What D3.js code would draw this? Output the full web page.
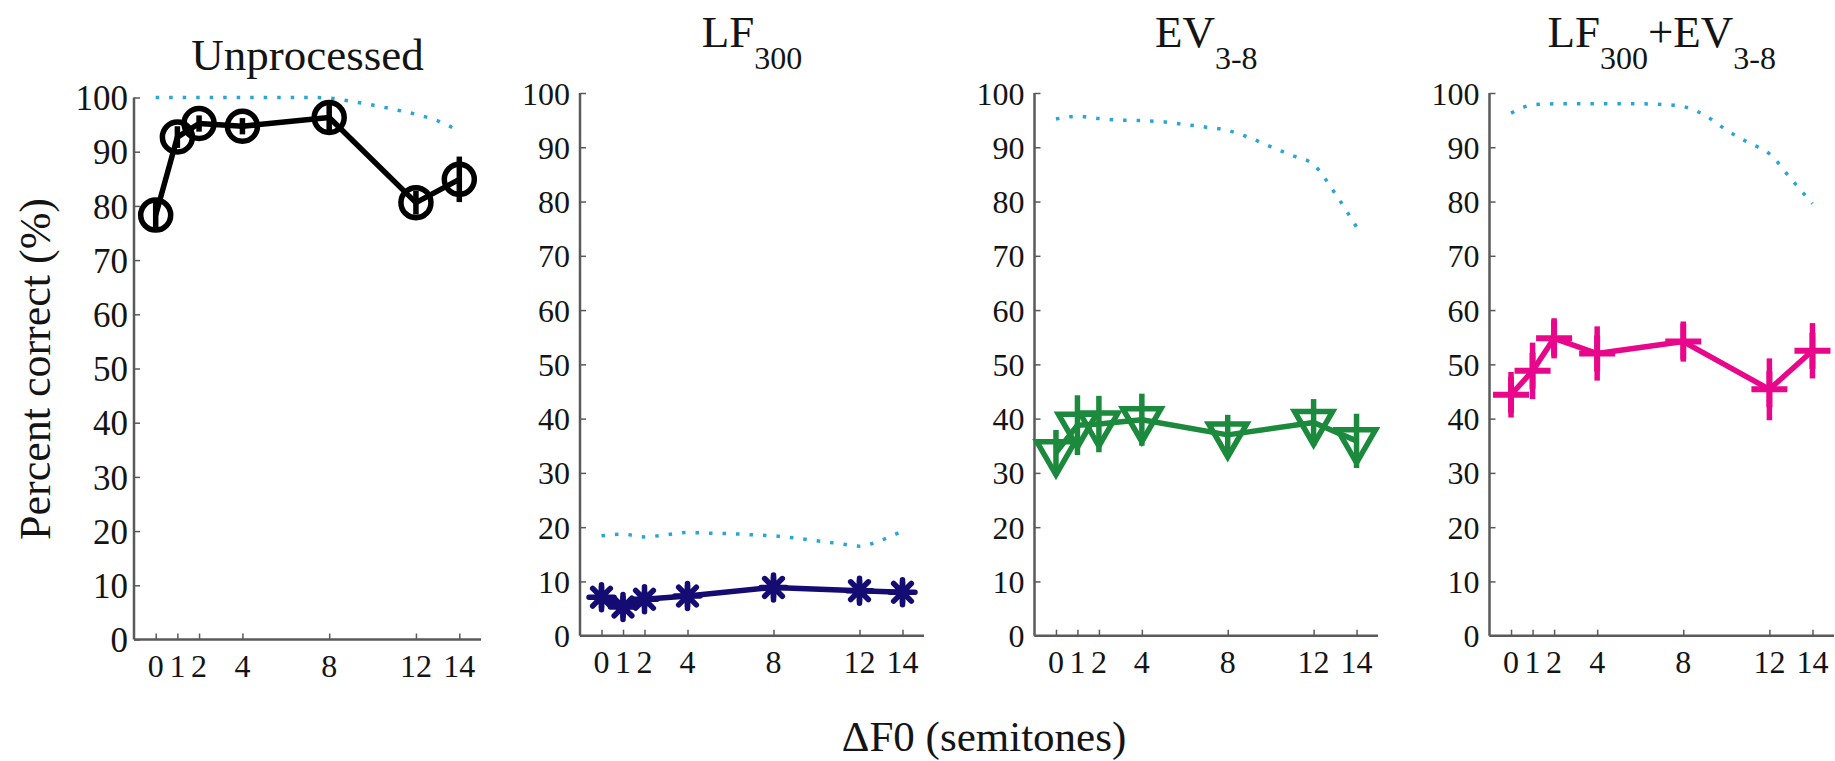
<!DOCTYPE html>
<html>
<head>
<meta charset="utf-8">
<script src="https://cdn.jsdelivr.net/npm/d3@7"></script>
<style>
  html, body { margin: 0; padding: 0; background: #ffffff; }
  svg { display: block; }
</style>
</head>
<body>
<svg id="chart" width="1835" height="761"></svg>
<script>
// ---------- DATA ----------
const semitones = [0, 1, 2, 4, 8, 12, 14];
const xTickValues = [0, 1, 2, 4, 8, 12, 14];
const yTickValues = [0, 10, 20, 30, 40, 50, 60, 70, 80, 90, 100];
const modelSemitones = [0, 1, 2, 3, 4, 5, 6, 7, 8, 9, 10, 11, 12, 13, 14];

const unprocessedMean = [78.3, 92.7, 95.2, 94.7, 96.3, 80.6, 84.9];
const unprocessedErr  = [3.0, 2.0, 1.5, 1.5, 2.4, 2.2, 4.2];
const unprocessedModel = [100, 100, 100, 100, 100, 100, 100, 100, 99.9, 99.3, 98.6, 97.8, 96.9, 95.7, 93.8];

const lf300Mean = [7.1, 5.3, 6.7, 7.3, 8.9, 8.3, 8.0];
const lf300Err  = [2.0, 2.0, 1.5, 2.0, 2.0, 2.0, 2.0];
const lf300Model = [18.4, 18.7, 18.2, 18.6, 19.0, 18.9, 18.8, 18.6, 18.4, 18.0, 17.5, 17.0, 16.5, 17.6, 19.3];

const ev38Mean = [33.7, 38.8, 39.0, 39.8, 37.0, 39.3, 35.9];
const ev38Err  = [4.2, 5.5, 5.2, 4.8, 3.7, 4.3, 5.0];
const ev38Model = [95.2, 95.7, 95.3, 95.0, 94.9, 94.7, 94.2, 93.7, 93.1, 91.8, 90.1, 88.5, 86.8, 81.5, 75.3];

const combMean = [44.4, 48.8, 54.8, 52.0, 54.2, 45.4, 52.5];
const combErr  = [4.2, 5.2, 3.7, 5.0, 3.7, 5.7, 5.1];
const combModel = [96.3, 97.8, 98.0, 98.0, 98.0, 98.0, 98.0, 97.9, 97.5, 95.9, 93.2, 90.9, 88.8, 84.2, 79.6];

// title pieces: [text, isSubscript]
const titleUnprocessed = [["Unprocessed", false]];
const titleLF = [["LF", false], ["300", true]];
const titleEV = [["EV", false], ["3-8", true]];
const titleComb = [["LF", false], ["300", true], ["+EV", false], ["3-8", true]];

const yAxisLabel = "Percent correct (%)";
const xAxisLabel = "\u0394F0 (semitones)";

// ---------- LAYOUT / STYLE ----------
const FONT = "'Liberation Serif', 'Times New Roman', Times, serif";
const panels = [
  { title: titleUnprocessed, mean: unprocessedMean, err: unprocessedErr, model: unprocessedModel,
    color: "#000000", marker: "circle", xr: [134, 481], yr: [639.5, 97.5], titleY: 70, ytGap: 6, ytSize: 35 },
  { title: titleLF, mean: lf300Mean, err: lf300Err, model: lf300Model,
    color: "#140c72", marker: "star", xr: [580, 924], yr: [635.7, 93], titleY: 47, ytGap: 10, ytSize: 32 },
  { title: titleEV, mean: ev38Mean, err: ev38Err, model: ev38Model,
    color: "#1c8a3c", marker: "triangle", xr: [1034.5, 1378], yr: [635.7, 93], titleY: 47, ytGap: 10, ytSize: 32 },
  { title: titleComb, mean: combMean, err: combErr, model: combModel,
    color: "#e8078a", marker: "plus", xr: [1489.5, 1834], yr: [635.7, 93], titleY: 47, ytGap: 10, ytSize: 32 }
];

const svg = d3.select("#chart");
const axisColor = "#5a5a5a";
const modelColor = "#2aa6d5";
const textColor = "#141414";

panels.forEach(p => {
  const x = d3.scaleLinear().domain([-1, 15]).range(p.xr);
  const y = d3.scaleLinear().domain([0, 100]).range(p.yr);
  const g = svg.append("g");

  // Y axis (ticks inward)
  const yAxis = d3.axisRight(y).tickValues(yTickValues).tickSize(6).tickFormat("");
  const yg = g.append("g").attr("transform", `translate(${p.xr[0]},0)`).call(yAxis);
  yg.select(".domain").attr("d", `M0,${y(0)}V${y(100)}`).attr("stroke", axisColor).attr("stroke-width", 2.5);
  yg.selectAll(".tick line").attr("stroke", axisColor).attr("stroke-width", 1.5);
  g.append("g").selectAll("text").data(yTickValues).join("text")
    .attr("x", p.xr[0] - p.ytGap).attr("y", d => y(d))
    .attr("dy", "0.36em").attr("text-anchor", "end")
    .attr("font-family", FONT).attr("fill", textColor)
    .attr("font-size", p.ytSize).text(d => d);

  // X axis (ticks inward)
  const xAxis = d3.axisTop(x).tickValues(xTickValues).tickSize(6).tickFormat("");
  const xg = g.append("g").attr("transform", `translate(0,${y(0)})`).call(xAxis);
  xg.select(".domain").attr("d", `M${p.xr[0]},0H${p.xr[1]}`).attr("stroke", axisColor).attr("stroke-width", 2.5);
  xg.selectAll(".tick line").attr("stroke", axisColor).attr("stroke-width", 1.5);
  g.append("g").selectAll("text").data(xTickValues).join("text")
    .attr("x", d => x(d)).attr("y", y(0) + 37)
    .attr("text-anchor", "middle").attr("font-family", FONT).attr("fill", textColor)
    .attr("font-size", 32).text(d => d);

  // Title
  const t = g.append("text").attr("x", (p.xr[0] + p.xr[1]) / 2).attr("y", p.titleY)
    .attr("text-anchor", "middle").attr("font-family", FONT).attr("fill", textColor);
  let sub = false;
  p.title.forEach(([txt, isSub]) => {
    const ts = t.append("tspan").text(txt).attr("font-size", isSub ? 32 : 45);
    if (isSub && !sub) ts.attr("dy", 21.5);
    if (!isSub && sub) ts.attr("dy", -21.5);
    sub = isSub;
  });

  // Model dotted line
  const modelLine = d3.line().x((d, i) => x(modelSemitones[i])).y(d => y(d)).curve(d3.curveMonotoneX);
  g.append("path").datum(p.model).attr("d", modelLine)
    .attr("fill", "none").attr("stroke", modelColor).attr("stroke-width", 3.5)
    .attr("stroke-dasharray", "3.5 10");

  // Data line
  const dataLine = d3.line().x((d, i) => x(semitones[i])).y(d => y(d));
  g.append("path").datum(p.mean).attr("d", dataLine)
    .attr("fill", "none").attr("stroke", p.color).attr("stroke-width", 5.5)
    .attr("stroke-linejoin", "round");

  // Error bars
  g.append("g").selectAll("line").data(p.mean).join("line")
    .attr("x1", (d, i) => x(semitones[i])).attr("x2", (d, i) => x(semitones[i]))
    .attr("y1", (d, i) => y(d - p.err[i])).attr("y2", (d, i) => y(d + p.err[i]))
    .attr("stroke", p.color).attr("stroke-width", 5.5);

  // Markers
  const mg = g.append("g").attr("fill", "none").attr("stroke", p.color);
  p.mean.forEach((d, i) => {
    const cx = x(semitones[i]), cy = y(d);
    if (p.marker === "circle") {
      mg.append("circle").attr("cx", cx).attr("cy", cy).attr("r", 15).attr("stroke-width", 5.5);
    } else if (p.marker === "star") {
      const r = 12.5, q = r * Math.SQRT1_2;
      mg.append("path").attr("stroke-width", 5.5).attr("stroke-linecap", "round")
        .attr("d", `M${cx - r},${cy}H${cx + r}M${cx},${cy - r}V${cy + r}` +
          `M${cx - q},${cy - q}L${cx + q},${cy + q}M${cx - q},${cy + q}L${cx + q},${cy - q}`);
    } else if (p.marker === "triangle") {
      const r = 22, h = r * Math.sqrt(3) / 2;
      mg.append("path").attr("stroke-width", 5.5).attr("stroke-linejoin", "miter")
        .attr("d", `M${cx - h},${cy - r / 2}L${cx + h},${cy - r / 2}L${cx},${cy + r}Z`);
    } else if (p.marker === "plus") {
      const r = 18;
      mg.append("path").attr("stroke-width", 6)
        .attr("d", `M${cx - r},${cy}H${cx + r}M${cx},${cy - r}V${cy + r}`);
    }
  });
});

// Axis labels
svg.append("text").attr("transform", "translate(50,369) rotate(-90)")
  .attr("text-anchor", "middle").attr("font-family", FONT).attr("fill", textColor)
  .attr("font-size", 44).text(yAxisLabel);
svg.append("text").attr("x", 984).attr("y", 751)
  .attr("text-anchor", "middle").attr("font-family", FONT).attr("fill", textColor)
  .attr("font-size", 43).text(xAxisLabel);
</script>
</body>
</html>
